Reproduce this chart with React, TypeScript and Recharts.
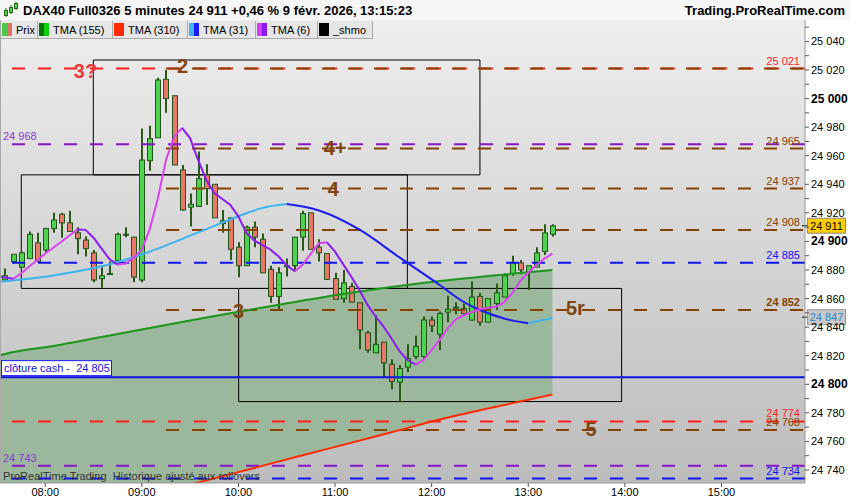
import React from 'react';
import {
   ComposedChart,
   Bar,
   Line,
   Area,
   XAxis,
   YAxis,
   CartesianGrid,
   ReferenceLine,
   ReferenceArea,
   ReferenceDot,
} from 'recharts';

//Scale limits
const yMin = 24730.9;
const yMax = 25055;
const xMin = -0.62;
const xMax = 99.38;

//5 minute bars, index 0 = 07:35 ... index 68 = 13:15
const opens = [
   24873, 24886, 24882, 24888, 24899, 24894, 24909, 24919, 24913, 24906,
   24901, 24892, 24874, 24877.5, 24886.5, 24904.5, 24903, 24873, 24956.5, 24972.5,
   25013.5, 25002, 24950, 24924, 24924.5, 24946.5, 24940, 24914.5, 24916.5, 24896,
   24883, 24910, 24901.5, 24880.5, 24861.5, 24882.5, 24883, 24903, 24920, 24896,
   24891.5, 24874, 24860, 24868.5, 24857, 24836, 24822, 24829.5, 24814, 24801.5,
   24812, 24819.5, 24819.5, 24845, 24835, 24850.5, 24853.5, 24853, 24845, 24861.5,
   24843.5, 24856.5, 24861, 24877.5, 24885, 24878.5, 24882, 24893, 24905,
];
const highs = [
   24881, 24891, 24893, 24907, 24906, 24909.5, 24920, 24920, 24921.5, 24910,
   24903.5, 24894, 24882, 24886, 24906, 24910, 24903, 24979, 24981, 25014.5,
   25020, 25002, 24953.5, 24933.5, 24963, 24954, 24940, 24922, 24916.5, 24899.5,
   24911, 24914, 24905.5, 24883, 24882, 24888, 24903, 24921.5, 24920, 24901.5,
   24891.5, 24878, 24880, 24871, 24857, 24837.5, 24848.5, 24829.5, 24817.5, 24813.5,
   24828, 24834, 24847.5, 24847.5, 24851, 24862, 24857.5, 24856.5, 24872, 24864,
   24860, 24870.5, 24877.5, 24890, 24887, 24883, 24896, 24912, 24912,
];
const lows = [
   24872.5, 24884.5, 24881.5, 24888, 24886, 24892, 24906, 24902.5, 24907, 24891,
   24889.5, 24871.5, 24867.5, 24877, 24886, 24903, 24871.5, 24871.5, 24949.5, 24972.5,
   24990, 24953.5, 24921.5, 24910.5, 24924.5, 24925.5, 24916.5, 24906, 24887, 24875,
   24883, 24896, 24878, 24857, 24852, 24875.5, 24879, 24893.5, 24894.5, 24886,
   24873, 24859.5, 24857, 24857.5, 24824.5, 24822, 24822, 24805, 24796.5, 24787.5,
   24808.5, 24817.5, 24817, 24836.5, 24824, 24843.5, 24849, 24848.5, 24844.5, 24841,
   24843.5, 24852, 24861, 24876, 24877, 24866, 24882, 24890.5, 24903.5,
];
const closes = [
   24876, 24891, 24892, 24905, 24886, 24909, 24915, 24913, 24907, 24902,
   24895, 24873, 24876, 24877.5, 24905, 24905, 24875, 24957, 24972, 25013,
   25000, 24953.5, 24922, 24926, 24944, 24937, 24916.5, 24912.5, 24894.5, 24883,
   24910, 24903, 24878, 24861.5, 24878, 24883, 24903, 24919.5, 24894.5, 24892,
   24873.5, 24859.5, 24871, 24857.5, 24838, 24824, 24828, 24815, 24802, 24811,
   24818, 24826.5, 24845, 24841, 24849.5, 24852.5, 24854, 24849.5, 24861, 24843.5,
   24860, 24864, 24876, 24885, 24880, 24883, 24892, 24906, 24911,
];

//TMA (6), one value per bar (first value is just left of bar 0)
const tma6 = [
   24876,
   24874.7, 24873.8, 24877.5, 24882.4, 24886.8, 24891.6, 24895.6, 24899.8, 24904.2, 24908.4,
   24908.1, 24902.6, 24894.9, 24887.5, 24883.8, 24884.5, 24888.7, 24894.2, 24908.8, 24930.4,
   24956.9, 24973.1, 24979.5, 24972.2, 24956.9, 24943, 24933.9, 24929.7, 24925.5, 24917.4,
   24905.8, 24900.5, 24897.4, 24894.2, 24889.4, 24883.1, 24879.1, 24883.8, 24891.4, 24898.7,
   24899.4, 24892.8, 24884.1, 24875.4, 24866.4, 24855.9, 24847.8, 24840.6, 24832.2, 24823.2,
   24817, 24813.8, 24817, 24823.9, 24831.1, 24839.2, 24845.5, 24848.3, 24850.6, 24852.5,
   24853.5, 24854.3, 24857.3, 24863.6, 24872.2, 24878.2, 24883.4, 24888, 24891.4,
];

//TMA (31)
const tma31Idx = [-1, 6, 12, 17, 24, 29, 32, 35, 39, 44, 49, 54, 57, 59, 62, 65, 68];
const tma31 = [
   24871.6, 24876.2, 24882.6, 24890.9, 24906.3, 24917.6, 24923.5, 24926.2, 24921.7,
   24908.4, 24888.8, 24869.5, 24857.6, 24852, 24846.1, 24842.7, 24846.5,
];

//TMA (155)
const tma155Idx = [-1, 0, 6, 12, 18, 24, 30, 36, 42, 48, 54, 60, 66, 68];
const tma155 = [
   24819.5, 24821.2, 24826.8, 24833.1, 24839.4, 24845.7, 24851.7, 24857.6,
   24863.2, 24868.1, 24872.3, 24875.8, 24879, 24880,
];

//TMA (310)
const tma310Idx = [18, 24, 30, 36, 42, 48, 54, 60, 66, 68];
const tma310 = [24723.2, 24731.3, 24740, 24748.9, 24757.6, 24766.4, 24775.3, 24783.1, 24790.4, 24792.8];

//Horizontal levels
const fullLines = [
   { v: 25021, color: '#ff1e1e', tag: '25 021', side: 'right' },
   { v: 24968, color: '#8516c8', tag: '24 968', side: 'left' },
   { v: 24885, color: '#1212f0', tag: '24 885', side: 'right' },
   { v: 24774, color: '#ff1e1e', tag: '24 774', side: 'right' },
   { v: 24743, color: '#8516c8', tag: '24 743', side: 'left' },
   { v: 24734, color: '#1212f0', tag: '24 734', side: 'right' },
];
const brownLevels = [25021, 24965, 24937, 24908, 24852, 24768];
const brownTags = ['25 021', '24 965', '24 937', '24 908', '24 852', '24 768'];
const brownStart = 20;
const cashClose = 24805;
const lastPrice = 24911;
const lastTma31 = 24847;

//Rectangles drawn on the chart
const boxes = [
   { x1: 10.97, x2: 59, y1: 24946.6, y2: 25027 },
   { x1: 2.02, x2: 49.98, y1: 24867.1, y2: 24946.6 },
   { x1: 29.03, x2: 76.6, y1: 24787.9, y2: 24867.1 },
];

//Wave labels
const waveLabels = [
   { x: 10, y: 25019.4, text: '3?', color: '#ea3a3a' },
   { x: 22.05, y: 25023, text: '2', color: '#7f4512' },
   { x: 41, y: 24965.3, text: '4+', color: '#7f4512' },
   { x: 40.8, y: 24936.9, text: '4', color: '#7f4512' },
   { x: 29, y: 24851.6, text: '3', color: '#7f4512' },
   { x: 70.85, y: 24853.2, text: '5r', color: '#7f4512' },
   { x: 72.8, y: 24768.7, text: '5', color: '#7f4512' },
];

const hourTicks = [5, 17, 29, 41, 53, 65, 77, 89];
const hourLabels = ['08:00', '09:00', '10:00', '11:00', '12:00', '13:00', '14:00', '15:00'];

const legendItems = [
   { label: 'Prix', colors: ['#4cc84c', '#e07264'], w: 37 },
   { label: 'TMA (155)', colors: ['#007800', '#10d010'], w: 75 },
   { label: 'TMA (310)', colors: ['#ff2a00', '#ff2a00'], w: 75 },
   { label: 'TMA (31)', colors: ['#3cb4f0', '#1c1cf0'], w: 68 },
   { label: 'TMA (6)', colors: ['#d040f0', '#8a1cf0'], w: 62 },
   { label: '_shmo', colors: ['#000000', '#000000'], w: 55 },
];

const FONT = '"Liberation Sans", Arial, sans-serif';

const bars = opens.map((o, i) => ({
   x: i,
   o,
   h: highs[i],
   l: lows[i],
   c: closes[i],
   range: [lows[i], highs[i]],
}));

// split a line in rising / falling pieces (colour changes with slope)
const splitRuns = (xs: number[], vs: number[]) => {
   const runs: { up: boolean; pts: { x: number; v: number }[] }[] = [];
   for (let i = 1; i < vs.length; i++) {
      const up = vs[i] >= vs[i - 1];
      const last = runs[runs.length - 1];
      if (last && last.up === up) last.pts.push({ x: xs[i], v: vs[i] });
      else runs.push({ up, pts: [{ x: xs[i - 1], v: vs[i - 1] }, { x: xs[i], v: vs[i] }] });
   }
   return runs;
};

const tma6Runs = splitRuns(tma6.map((_, i) => i - 1), tma6);
const tma31Runs = splitRuns(tma31Idx, tma31);
const tma155Data = tma155Idx.map((x, i) => ({ x, v: tma155[i] }));
const tma310Data = tma310Idx.map((x, i) => ({ x, v: tma310[i] }));
const fillData = tma155Idx.map((x, i) => {
   const k = tma310Idx.indexOf(x);
   const low = k >= 0 ? Math.max(tma310[k], yMin) : yMin;
   return { x, band: [low, tma155[i]] };
});

const priceTicks: number[] = [];
for (let p = 24740; p <= 25050; p += 10) priceTicks.push(p);

const fmt = (v: number) => `${Math.floor(v / 1000)} ${String(Math.round(v) % 1000).padStart(3, '0')}`;

const Candle: React.FC<any> = (props) => {
   const { x, y, width, height, payload } = props;
   if (!payload) return null;
   const { o, h, l, c } = payload;
   const top = Math.min(y, y + height);
   const hgt = Math.abs(height);
   const ppv = hgt / (h - l || 1);
   const cx = Math.round(x + width / 2);
   const yO = top + (h - o) * ppv;
   const yC = top + (h - c) * ppv;
   const bTop = Math.min(yO, yC);
   const bH = Math.max(Math.abs(yC - yO), 1);
   return (
      <g>
         <line x1={cx} x2={cx} y1={top} y2={top + hgt} stroke="#2a5a16" strokeWidth={2} />
         <rect x={cx - 2.5} y={bTop} width={5} height={bH} fill={c >= o ? '#4fd24f' : '#e8786a'} stroke="#22551a" strokeWidth={1} />
      </g>
   );
};

const PriceTick: React.FC<any> = ({ y, payload }) => {
   const v = payload.value;
   const major = v % 20 === 0;
   const bold = v % 100 === 0;
   return (
      <g>
         <line x1={805} x2={809} y1={y} y2={y} stroke="#555" />
         {major && (
            <text x={811} y={y + 4} fontSize={bold ? 12 : 11} fontWeight={bold ? 'bold' : 'normal'} fill="#000" fontFamily={FONT}>
               {fmt(v)}
            </text>
         )}
      </g>
   );
};

const TimeTick: React.FC<any> = ({ x, payload }) => {
   const i = hourTicks.indexOf(payload.value);
   return (
      <g>
         <line x1={x} x2={x} y1={483} y2={487} stroke="#555" />
         <text x={x} y={496} textAnchor="middle" fontSize={11} fill="#000" fontFamily={FONT}>
            {hourLabels[i]}
         </text>
      </g>
   );
};

const LineTag: React.FC<any> = (props) => {
   const { viewBox, text, color, side, bold } = props;
   if (!viewBox) return null;
   const left = side === 'left';
   return (
      <text
         x={left ? viewBox.x + 3 : viewBox.x + viewBox.width - 5}
         y={viewBox.y - 4}
         textAnchor={left ? 'start' : 'end'}
         fontSize={11}
         fontWeight={bold ? 'bold' : 'normal'}
         fill={color}
         fontFamily={FONT}
      >
         {text}
      </text>
   );
};

const CashTag: React.FC<any> = ({ viewBox }) => {
   if (!viewBox) return null;
   return (
      <g>
         <rect x={1.5} y={viewBox.y - 16.5} width={110} height={15} fill="#fff" stroke="#1a1aff" />
         <text x={4} y={viewBox.y - 5} fontSize={11} fill="#1010e0" fontFamily={FONT}>
            {`clôture cash -\u00a0\u00a0${fmt(cashClose)}`}
         </text>
      </g>
   );
};

const AxisTag: React.FC<any> = ({ viewBox, text, bg, border, color }) => {
   if (!viewBox) return null;
   const x0 = viewBox.x + viewBox.width;
   return (
      <g>
         <line x1={x0 - 3} x2={x0 + 2} y1={viewBox.y} y2={viewBox.y} stroke="#000" />
         <rect x={x0 + 2.5} y={viewBox.y - 7.5} width={38} height={15} fill={bg} stroke={border} />
         <text x={x0 + 21.5} y={viewBox.y + 4} textAnchor="middle" fontSize={11} fill={color} fontFamily={FONT}>
            {text}
         </text>
      </g>
   );
};

const WaveMark = (text: string, color: string) => (p: any) => (
   <text x={p.cx} y={p.cy} textAnchor="middle" dominantBaseline="central" fontSize={20} fontWeight="bold" fill={color} fontFamily={FONT}>
      {text}
   </text>
);

const App: React.FC = () => {
   return (
      <div style={{ position: 'absolute', left: 0, top: 0, width: 850, height: 500, overflow: 'hidden', background: '#fff', fontFamily: FONT }}>
         <ComposedChart
            width={850}
            height={500}
            data={bars}
            margin={{ top: 20, right: 0, bottom: 0, left: 0 }}
         >
            <defs>
               <linearGradient id="plotBg" x1="0" y1="0" x2="0" y2="1">
                  <stop offset="0%" stopColor="#eeeeee" />
                  <stop offset="100%" stopColor="#bcbcbc" />
               </linearGradient>
            </defs>
            <CartesianGrid horizontal={false} vertical={false} fill="url(#plotBg)" />
            <XAxis
               dataKey="x"
               type="number"
               domain={[xMin, xMax]}
               allowDataOverflow
               ticks={hourTicks}
               tick={<TimeTick />}
               tickLine={false}
               height={17}
               stroke="#999"
               interval={0}
            />
            <YAxis
               orientation="right"
               type="number"
               domain={[yMin, yMax]}
               allowDataOverflow
               ticks={priceTicks}
               tick={<PriceTick />}
               tickLine={false}
               width={45}
               stroke="#999"
               interval={0}
            />

            <Area data={fillData} dataKey="band" type="monotone" stroke="none" fill="#9cb89c" fillOpacity={1} isAnimationActive={false} />

            {fullLines.map((l) => (
               <ReferenceLine
                  key={`f${l.v}`}
                  y={l.v}
                  stroke={l.color}
                  strokeWidth={2}
                  strokeDasharray="13 13"
                  label={<LineTag text={l.tag} color={l.side === 'left' ? '#8a3cd0' : l.color} side={l.side} />}
               />
            ))}
            {brownLevels.map((v, i) => (
               <ReferenceLine
                  key={`b${v}`}
                  segment={[{ x: brownStart, y: v }, { x: xMax, y: v }]}
                  stroke="#844200"
                  strokeWidth={2}
                  strokeDasharray="13 13"
                  label={i === 0 ? undefined : <LineTag text={brownTags[i]} color="#844200" side="right" bold={v === 24852} />}
               />
            ))}
            <ReferenceLine y={cashClose} stroke="#0a14e6" strokeWidth={2} label={<CashTag />} />

            {boxes.map((b, i) => (
               <ReferenceArea key={`box${i}`} x1={b.x1} x2={b.x2} y1={b.y1} y2={b.y2} fill="none" fillOpacity={0} stroke="#000" strokeWidth={1} ifOverflow="visible" />
            ))}

            <Line data={tma155Data} dataKey="v" type="monotone" stroke="#1a961a" strokeWidth={2} dot={false} isAnimationActive={false} />
            <Line data={tma310Data} dataKey="v" type="monotone" stroke="#ff2a00" strokeWidth={2} dot={false} isAnimationActive={false} />

            <Bar dataKey="range" barSize={7} shape={<Candle />} isAnimationActive={false} />

            {tma31Runs.map((r, i) => (
               <Line key={`t31${i}`} data={r.pts} dataKey="v" type="monotone" stroke={r.up ? '#3cb4f0' : '#1c1cf0'} strokeWidth={2} dot={false} isAnimationActive={false} />
            ))}
            {tma6Runs.map((r, i) => (
               <Line key={`t6${i}`} data={r.pts} dataKey="v" type="linear" stroke={r.up ? '#d844ee' : '#8a1cf0'} strokeWidth={2} dot={false} isAnimationActive={false} />
            ))}

            {waveLabels.map((w) => (
               <ReferenceDot key={w.text} x={w.x} y={w.y} r={0} shape={WaveMark(w.text, w.color)} />
            ))}

            <ReferenceLine y={lastPrice} stroke="none" label={<AxisTag text={fmt(lastPrice)} bg="#ffcc00" border="#888" color="#000" />} />
            <ReferenceLine y={lastTma31} stroke="none" label={<AxisTag text={fmt(lastTma31)} bg="#c8c8c8" border="#999" color="#1e88cc" />} />
         </ComposedChart>

         {/* left edge of the price panel */}
         <div style={{ position: 'absolute', left: 0, top: 20, width: 1, height: 463, background: '#a8a8a8' }} />

         {/* header */}
         <div style={{ position: 'absolute', left: 0, top: 0, width: 850, height: 20, background: '#f6f6f6' }}>
            <svg width={18} height={20} style={{ position: 'absolute', left: 2, top: 0 }}>
               <line x1={4} x2={4} y1={8} y2={17} stroke="#2a6a16" />
               <rect x={2.5} y={10.5} width={3} height={5} fill="#4fd24f" stroke="#2a6a16" />
               <line x1={9} x2={9} y1={5} y2={14} stroke="#2a6a16" />
               <rect x={7.5} y={7.5} width={3} height={5} fill="#4fd24f" stroke="#2a6a16" />
               <line x1={14} x2={14} y1={2} y2={10} stroke="#2a6a16" />
               <rect x={12.5} y={3.5} width={3} height={5} fill="#4fd24f" stroke="#2a6a16" />
            </svg>
            <div style={{ position: 'absolute', left: 23, top: 3, fontSize: 13, fontWeight: 'bold', color: '#000', whiteSpace: 'nowrap' }}>
               DAX40 Full0326 5 minutes 24 911 +0,46 % 9 févr. 2026, 13:15:23
            </div>
            <div style={{ position: 'absolute', right: 5, top: 3, fontSize: 13, fontWeight: 'bold', color: '#000' }}>
               Trading.ProRealTime.com
            </div>
         </div>

         {/* legend */}
         <div style={{ position: 'absolute', left: 1, top: 21, height: 18, display: 'flex' }}>
            {legendItems.map((it) => (
               <div
                  key={it.label}
                  style={{
                     width: it.w,
                     height: 18,
                     boxSizing: 'border-box',
                     background: '#e6e6e6',
                     borderRight: '1px solid #aaa',
                     borderBottom: '1px solid #aaa',
                     display: 'flex',
                     alignItems: 'center',
                     fontSize: 11,
                     color: '#000',
                     whiteSpace: 'nowrap',
                  }}
               >
                  <span style={{ display: 'inline-block', width: 5, height: 13, background: it.colors[0], marginLeft: 1 }} />
                  <span style={{ display: 'inline-block', width: 5, height: 13, background: it.colors[1], marginRight: 4 }} />
                  {it.label}
               </div>
            ))}
         </div>

         <div style={{ position: 'absolute', left: 3, top: 470, fontSize: 11, color: '#333', whiteSpace: 'pre' }}>
            ProRealTime Trading  Historique ajusté aux rollovers
         </div>
      </div>
   );
};

export default App;
